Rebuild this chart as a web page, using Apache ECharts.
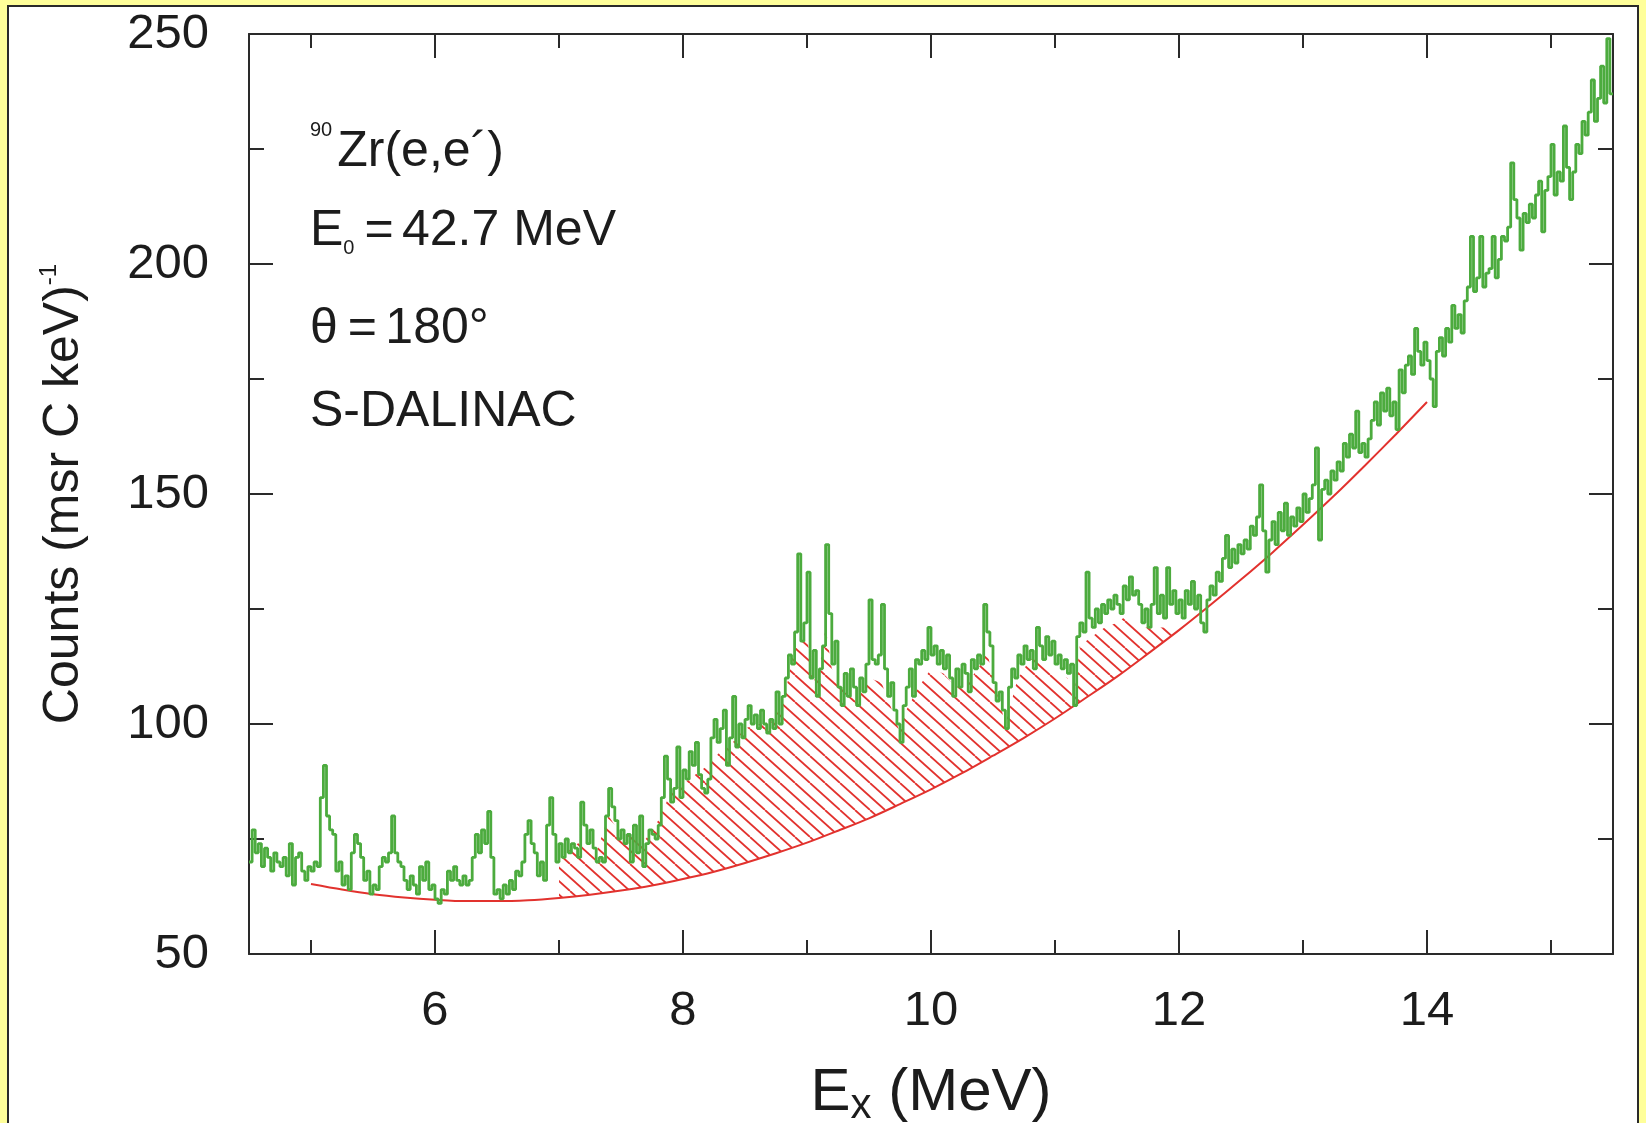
<!DOCTYPE html>
<html>
<head>
<meta charset="utf-8">
<script src="https://cdn.jsdelivr.net/npm/echarts@6/dist/echarts.min.js"></script>
<style>
html, body { margin: 0; padding: 0; width: 1646px; height: 1123px; overflow: hidden; background: #ffff9a; }
#panel { position: absolute; left: 7px; top: 5px; width: 1632px; height: 1200px; box-sizing: border-box;
         background: #ffffff; border: 2px solid #2a2a2a; }
#chart { position: absolute; left: 0; top: 0; width: 1646px; height: 1123px; }
</style>
</head>
<body>
<div id="panel"></div>
<div id="chart"></div>
<script>
// ---------------- data ----------------
const xMin = 4.5, xMax = 15.5;
const xMajorTicks = [6, 8, 10, 12, 14];
const xMinorTicks = [5, 7, 9, 11, 13, 15];
const yMin = 50, yMax = 250, yStep = 50;

// spectrum: histogram bins of 0.025 MeV starting at 4.5 MeV
const binStart = 4.5, binWidth = 0.025;
const counts_4_5 = [70,77,72,74,69,73,71,68,72,70,69,71,67,74,65,71,72,68,66,69,68,70,69,84,91,80,77,76,68,70,65,67,64,72,76,74,71,66,68,63];
const counts_5_6 = [65,64,69,71,70,72,80,72,70,69,66,64,67,65,63,69,66,70,64,65,62,61,64,63,68,66,69,66,65,67,65,66,71,76,72,77,74,81,71,63];
const counts_6_7 = [64,62,65,63,66,64,68,67,70,76,79,74,72,67,70,66,78,84,76,70,74,71,75,72,74,73,71,83,78,74,77,73,70,71,70,80,86,82,79,75];
const counts_7_8 = [77,74,76,70,78,72,80,69,74,77,76,75,78,84,93,88,83,86,95,84,90,88,94,91,96,89,86,85,88,97,101,96,99,103,91,97,106,95,100,97];
const counts_8_9 = [101,104,100,102,99,103,100,98,101,99,107,100,106,110,115,113,120,137,118,122,133,110,116,106,112,117,139,124,113,118,108,104,111,106,112,108,104,110,107,113];
const counts_9_10 = [127,114,113,115,126,112,106,109,103,100,96,104,108,112,106,114,113,116,114,121,115,117,113,116,112,115,110,106,112,108,113,111,107,114,112,115,113,126,120,117];
const counts_10_11 = [109,105,107,103,99,108,112,110,115,113,117,114,116,112,121,117,114,119,115,118,113,115,112,114,111,113,104,119,122,120,133,123,121,125,122,126,124,127,125,128];
const counts_11_12 = [126,124,130,127,132,128,129,126,122,125,121,126,134,124,128,123,134,126,129,124,127,123,129,126,131,125,128,122,120,127,130,128,133,131,136,141,134,138,135,139];
const counts_12_13 = [137,140,138,143,141,145,152,142,133,140,144,139,146,142,148,141,145,143,147,144,150,146,149,152,160,140,151,153,150,155,153,157,155,161,158,163,160,168,159,161];
const counts_13_14 = [158,162,166,170,165,172,168,173,167,170,164,177,172,178,180,176,186,181,178,183,179,175,169,181,184,180,186,183,191,186,189,185,192,195,206,194,197,206,195,198];
const counts_14_15 = [199,206,197,201,206,205,208,222,214,210,203,211,209,213,210,215,218,207,216,219,226,215,220,218,230,221,214,220,226,224,231,228,233,240,231,236,243,235,249,237];

// background (red curve)
const bgEnergy = [5.0,5.25,5.5,5.75,6.0,6.25,6.5,6.75,7.0,7.25,7.5,7.75,8.0,8.25,8.5,8.75,9.0,9.25,9.5,9.75,10.0,10.25,10.5,10.75,11.0,11.25,11.5,11.75,12.0,12.25,12.5,12.75,13.0,13.25,13.5,13.75,14.0];
const bgCounts = [65.2,64.0,63.0,62.3,61.8,61.5,61.5,61.7,62.2,62.9,63.8,64.9,66.3,67.9,69.8,71.9,74.2,76.8,79.5,82.6,85.8,89.3,93.1,97.0,101.2,105.7,110.3,115.3,120.4,125.8,131.4,137.2,143.3,149.6,156.2,163.0,170.0];

// upper edge of the hatched (resonance) region
const hatchEnergy = [7.0,7.1,7.2,7.3,7.4,7.5,7.6,7.7,7.8,7.9,8.0,8.1,8.2,8.3,8.4,8.5,8.6,8.7,8.8,8.85,8.9,9.0,9.05,9.1,9.15,9.2,9.3,9.4,9.5,9.6,9.7,9.75,9.8,9.9,10.0,10.1,10.2,10.3,10.4,10.45,10.5,10.6,10.7,10.8,10.9,11.0,11.1,11.15,11.2,11.3,11.4,11.5,11.6,11.7,11.8,11.9,12.0];
const hatchTop = [70.4,73,75,72,80,76,76,75,79,85,87,89,91,94,96,99,100,100,104,110,117,119,109,112,121,112,107,105,110,109,102,98,103,108,112,111,108,109,113,116,110,100,110,114,115,111,110,105,117,119,121,122,124,121,121,121,120.4];

// ---------------- build ----------------
const counts = [].concat(counts_4_5, counts_5_6, counts_6_7, counts_7_8, counts_8_9, counts_9_10,
                         counts_10_11, counts_11_12, counts_12_13, counts_13_14, counts_14_15);
const spectrum = counts.map((c, i) => [+(binStart + i * binWidth).toFixed(3), c]);
spectrum.push([xMax, counts[counts.length - 1]]);
const background = bgEnergy.map((e, i) => [e, bgCounts[i]]);
const hatchUpper = hatchEnergy.map((e, i) => [e, hatchTop[i]]);
const hatchLower = background.filter(p => p[0] >= hatchEnergy[0] && p[0] <= hatchEnergy[hatchEnergy.length - 1]).reverse();
const hatchPoly = hatchUpper.concat(hatchLower);

const FONT = "'Liberation Sans', Arial, Helvetica, sans-serif";
const INK = '#1c1c1c';
const AXIS = '#2a2a2a';
const GREEN = '#4cab3e';
const RED = '#e2322e';

// hatch pattern
const pat = document.createElement('canvas');
pat.width = 30; pat.height = 27;
const pctx = pat.getContext('2d');
pctx.strokeStyle = RED; pctx.lineWidth = 1.8;
for (let k = -2; k <= 2; k++) {
  pctx.beginPath(); pctx.moveTo(15 * k, 0); pctx.lineTo(15 * k + 30, 27); pctx.stroke();
}

const lineSt = { color: AXIS, width: 2 };
function xAxisDef(pos, major) {
  return {
    type: 'value', position: pos, min: xMin, max: xMax,
    axisLine: { show: major, onZero: false, lineStyle: lineSt },
    axisTick: { show: true, inside: true, length: major ? 24 : 14, lineStyle: lineSt,
                customValues: major ? xMajorTicks : xMinorTicks },
    axisLabel: (major && pos === 'bottom')
      ? { show: true, customValues: xMajorTicks, fontSize: 49, fontFamily: FONT, color: INK, margin: 33 }
      : { show: false },
    splitLine: { show: false }
  };
}
function yAxisDef(pos) {
  const left = pos === 'left';
  return {
    type: 'value', position: pos, min: yMin, max: yMax, interval: yStep,
    axisLine: { show: true, onZero: false, lineStyle: lineSt },
    axisTick: { show: true, inside: true, length: 24, lineStyle: lineSt },
    minorTick: { show: true, splitNumber: 2, length: 15, lineStyle: lineSt },
    axisLabel: left ? { show: true, fontSize: 49, fontFamily: FONT, color: INK, margin: 40 } : { show: false },
    splitLine: { show: false }, minorSplitLine: { show: false }
  };
}

const xAxes = [xAxisDef('bottom', true), xAxisDef('bottom', false), xAxisDef('top', true), xAxisDef('top', false)];
xAxes[0].name = '{m|E}{s|x}{m| (MeV)}';
xAxes[0].nameLocation = 'middle';
xAxes[0].nameGap = 109;
xAxes[0].nameTextStyle = {
  fontFamily: FONT, color: INK, fontSize: 60,
  rich: {
    m: { fontFamily: FONT, color: INK, fontSize: 60, lineHeight: 60 },
    s: { fontFamily: FONT, color: INK, fontSize: 42, lineHeight: 33, height: 33, verticalAlign: 'bottom' }
  }
};
const yAxes = [yAxisDef('left'), yAxisDef('right')];
yAxes[0].name = '{m|Counts (msr C keV)}{s|-1}';
yAxes[0].nameLocation = 'middle';
yAxes[0].nameGap = 160;
yAxes[0].nameTextStyle = {
  fontFamily: FONT, color: INK, fontSize: 50,
  rich: {
    m: { fontFamily: FONT, color: INK, fontSize: 50, lineHeight: 50 },
    s: { fontFamily: FONT, color: INK, fontSize: 24, lineHeight: 20, height: 20, verticalAlign: 'top' }
  }
};

const annRich = {
  m: { fontFamily: FONT, fill: INK, color: INK, fontSize: 50, lineHeight: 49 },
  sup: { fontFamily: FONT, fill: INK, color: INK, fontSize: 20, lineHeight: 5, height: 5, verticalAlign: 'top', padding: [0, 5, 0, 0] },
  sub: { fontFamily: FONT, fill: INK, color: INK, fontSize: 20, lineHeight: 15, height: 15, verticalAlign: 'bottom' }
};
function ann(text, top) {
  return { type: 'text', z: 100, silent: true,
           style: { text: text, x: 310, y: top, verticalAlign: 'top', align: 'left', rich: annRich,
                    fontFamily: FONT, fontSize: 50, fill: INK } };
}

const chart = echarts.init(document.getElementById('chart'), null, { renderer: 'canvas' });
chart.setOption({
  backgroundColor: 'transparent',
  animation: false,
  grid: { left: 249, right: 33, top: 34, bottom: 169, containLabel: false, outerBoundsMode: 'none' },
  xAxis: xAxes,
  yAxis: yAxes,
  graphic: [
    ann('{sup|90}{m|Zr(e,e\u00b4)}', 128),
    ann('{m|E}{sub|0}{m|\u2009=\u200642.7 MeV}', 207),
    ann('{m|\u03b8\u2009=\u2006180\u00b0}', 305),
    ann('{m|S-DALINAC}', 388)
  ],
  series: [
    {
      type: 'custom', xAxisIndex: 0, yAxisIndex: 0, z: 1, silent: true,
      data: [hatchUpper[0]],
      renderItem: function (params, api) {
        return {
          type: 'polygon',
          shape: { points: hatchPoly.map(p => api.coord(p)) },
          style: { fill: { image: pat, repeat: 'repeat' }, stroke: null }
        };
      }
    },
    {
      type: 'line', xAxisIndex: 0, yAxisIndex: 0, z: 2, data: background,
      smooth: 0.3, showSymbol: false, symbol: 'none', silent: true,
      lineStyle: { color: RED, width: 2 }
    },
    {
      type: 'line', xAxisIndex: 0, yAxisIndex: 0, z: 3, data: spectrum,
      step: 'end', showSymbol: false, symbol: 'none', silent: true,
      lineStyle: { color: GREEN, width: 2.8 }
    }
  ]
});
</script>
</body>
</html>
